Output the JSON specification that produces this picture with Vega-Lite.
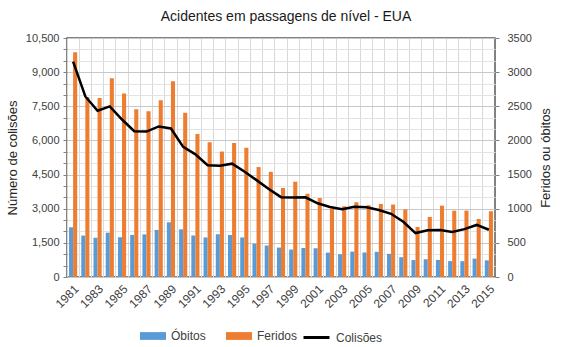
{
  "$schema": "https://vega.github.io/schema/vega-lite/v6.json",
  "width": 428,
  "height": 239,
  "autosize": {"type": "none"},
  "padding": {"left": 67, "top": 38, "right": 72, "bottom": 70},
  "background": "white",
  "config": {
    "font": "Liberation Sans",
    "view": {"stroke": "#595959", "strokeWidth": 1.5},
    "axis": {"labelColor": "#404040", "labelFontSize": 11, "titleColor": "#262626", "titleFontSize": 13, "titleFontWeight": "normal", "domain": false}
  },
  "title": {"text": "Acidentes em passagens de nível - EUA", "fontSize": 14, "fontWeight": "normal", "color": "#1a1a1a", "offset": 8, "dx": 5},
  "data": {"values": [
    {"ano": "1981", "Colisoes": 9461, "Óbitos": 728, "Feridos": 3293},
    {"ano": "1982", "Colisoes": 7932, "Óbitos": 607, "Feridos": 2637},
    {"ano": "1983", "Colisoes": 7305, "Óbitos": 575, "Feridos": 2623},
    {"ano": "1984", "Colisoes": 7496, "Óbitos": 649, "Feridos": 2910},
    {"ano": "1985", "Colisoes": 6919, "Óbitos": 582, "Feridos": 2687},
    {"ano": "1986", "Colisoes": 6403, "Óbitos": 616, "Feridos": 2458},
    {"ano": "1987", "Colisoes": 6391, "Óbitos": 624, "Feridos": 2429},
    {"ano": "1988", "Colisoes": 6615, "Óbitos": 689, "Feridos": 2589},
    {"ano": "1989", "Colisoes": 6526, "Óbitos": 801, "Feridos": 2868},
    {"ano": "1990", "Colisoes": 5715, "Óbitos": 698, "Feridos": 2407},
    {"ano": "1991", "Colisoes": 5388, "Óbitos": 608, "Feridos": 2094},
    {"ano": "1992", "Colisoes": 4910, "Óbitos": 579, "Feridos": 1975},
    {"ano": "1993", "Colisoes": 4892, "Óbitos": 626, "Feridos": 1837},
    {"ano": "1994", "Colisoes": 4979, "Óbitos": 615, "Feridos": 1961},
    {"ano": "1995", "Colisoes": 4633, "Óbitos": 579, "Feridos": 1894},
    {"ano": "1996", "Colisoes": 4257, "Óbitos": 488, "Feridos": 1610},
    {"ano": "1997", "Colisoes": 3865, "Óbitos": 461, "Feridos": 1540},
    {"ano": "1998", "Colisoes": 3508, "Óbitos": 431, "Feridos": 1303},
    {"ano": "1999", "Colisoes": 3489, "Óbitos": 402, "Feridos": 1396},
    {"ano": "2000", "Colisoes": 3502, "Óbitos": 425, "Feridos": 1219},
    {"ano": "2001", "Colisoes": 3237, "Óbitos": 421, "Feridos": 1157},
    {"ano": "2002", "Colisoes": 3077, "Óbitos": 357, "Feridos": 999},
    {"ano": "2003", "Colisoes": 2977, "Óbitos": 334, "Feridos": 1035},
    {"ano": "2004", "Colisoes": 3085, "Óbitos": 372, "Feridos": 1094},
    {"ano": "2005", "Colisoes": 3066, "Óbitos": 359, "Feridos": 1051},
    {"ano": "2006", "Colisoes": 2942, "Óbitos": 369, "Feridos": 1070},
    {"ano": "2007", "Colisoes": 2776, "Óbitos": 339, "Feridos": 1061},
    {"ano": "2008", "Colisoes": 2429, "Óbitos": 290, "Feridos": 990},
    {"ano": "2009", "Colisoes": 1930, "Óbitos": 248, "Feridos": 732},
    {"ano": "2010", "Colisoes": 2052, "Óbitos": 260, "Feridos": 880},
    {"ano": "2011", "Colisoes": 2061, "Óbitos": 250, "Feridos": 1045},
    {"ano": "2012", "Colisoes": 1983, "Óbitos": 233, "Feridos": 971},
    {"ano": "2013", "Colisoes": 2103, "Óbitos": 232, "Feridos": 972},
    {"ano": "2014", "Colisoes": 2287, "Óbitos": 269, "Feridos": 849},
    {"ano": "2015", "Colisoes": 2075, "Óbitos": 244, "Feridos": 963}
  ]},
  "encoding": {
    "x": {
      "field": "ano", "type": "ordinal", "title": null,
      "scale": {"paddingInner": 0, "paddingOuter": 0},
      "axis": {
        "labelAngle": -45, "ticks": false, "grid": true, "bandPosition": 0,
        "gridColor": "#d9d9d9", "gridWidth": 1, "labelPadding": 6, "labelFontSize": 12,
        "labelExpr": "parseInt(datum.value) % 2 == 1 ? datum.label : ''",
        "labelOverlap": false
      }
    }
  },
  "layer": [
    {
      "transform": [{"fold": ["Óbitos", "Feridos"], "as": ["serie", "valor"]}],
      "mark": {"type": "bar"},
      "encoding": {
        "xOffset": {"field": "serie", "type": "nominal", "sort": ["Óbitos", "Feridos"], "scale": {"paddingOuter": 0.5, "paddingInner": 0}},
        "y": {
          "field": "valor", "type": "quantitative",
          "scale": {"domain": [0, 3500], "nice": false},
          "axis": {"orient": "right", "title": "Feridos ou óbitos", "titleAngle": 270, "values": [0, 500, 1000, 1500, 2000, 2500, 3000, 3500], "format": "d", "grid": false, "tickSize": 4, "tickColor": "#808080", "labelPadding": 8, "titlePadding": 21}
        },
        "color": {
          "field": "serie", "type": "nominal",
          "scale": {"domain": ["Óbitos", "Feridos"], "range": ["#5B9BD5", "#ED7D31"]},
          "legend": {"title": null, "orient": "none", "direction": "horizontal", "legendX": 73, "legendY": 285, "symbolType": "M-1,-0.3H1V0.3H-1Z", "symbolSize": 676, "symbolStrokeWidth": 0, "symbolOpacity": 1, "labelFontSize": 12, "labelColor": "#404040", "columnPadding": 20, "labelOffset": 5}
        }
      }
    },
    {
      "mark": {"type": "line", "color": "black", "strokeWidth": 2.5},
      "encoding": {
        "y": {
          "field": "Colisoes", "type": "quantitative",
          "scale": {"domain": [0, 10500], "nice": false},
          "axis": {
            "orient": "left", "title": "Número de colisões",
            "values": [0, 500, 1000, 1500, 2000, 2500, 3000, 3500, 4000, 4500, 5000, 5500, 6000, 6500, 7000, 7500, 8000, 8500, 9000, 9500, 10000, 10500],
            "labelExpr": "datum.value % 1500 === 0 ? format(datum.value, ',') : ''",
            "labelOverlap": false,
            "grid": true,
            "gridColor": {"condition": {"test": "datum.value % 1500 === 0", "value": "#c8c8c8"}, "value": "#e3e3e3"},
            "tickSize": 4, "tickColor": "#808080", "labelPadding": 4, "titlePadding": 6
          }
        },
        "stroke": {
          "datum": "Colisões", "type": "nominal",
          "scale": {"domain": ["Colisões"], "range": ["black"]},
          "legend": {"title": null, "orient": "none", "legendX": 235, "legendY": 285, "symbolType": "stroke", "symbolSize": 676, "symbolStrokeWidth": 3, "labelFontSize": 12, "labelColor": "#404040", "labelOffset": 5}
        }
      }
    }
  ],
  "resolve": {"scale": {"y": "independent", "color": "independent"}}
}
